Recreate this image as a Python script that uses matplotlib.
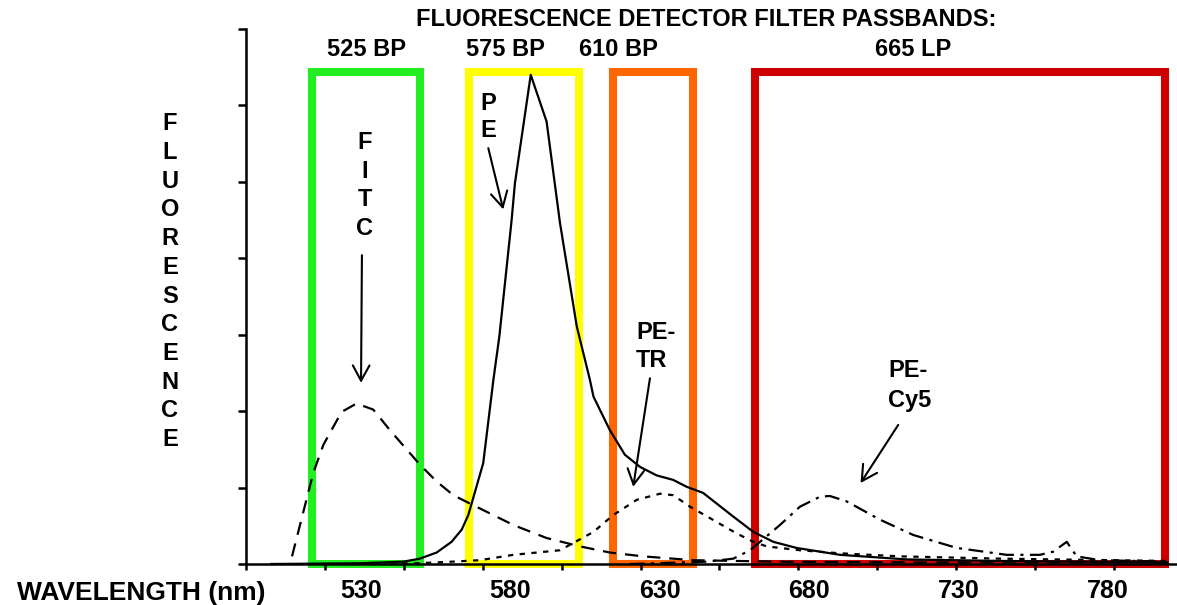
import numpy as np
import matplotlib.pyplot as plt
from matplotlib.patches import Rectangle

plt.rcParams['font.family'] = ['Liberation Sans', 'DejaVu Sans']
plt.rcParams['font.weight'] = 'bold'

# spectra (wavelength nm, fluorescence in axis units 0-7)
wl_fitc = [507, 514.1, 517.5, 523.6, 528.6, 534.2, 539.8, 549.8, 555.4, 561.0, 566.6,
           581.1, 592.2, 603.4, 613.4, 624.5, 641.2, 670, 720, 800]
fitc = [0.1, 1.19, 1.56, 1.99, 2.10, 2.02, 1.75, 1.30, 1.08, 0.90, 0.79,
        0.51, 0.34, 0.23, 0.15, 0.10, 0.05, 0.03, 0.02, 0.02]

wl_pe = [500, 530, 544.2, 549.8, 555.4, 560.4, 563.8, 566.0, 571.0, 574.4, 576.4, 580.5,
         581.6, 586.9, 592.2, 596.7, 602.3, 606.7, 607.9, 613.4, 618.4, 623.5, 629.0,
         634.6, 639.1, 644.6, 654.7, 661.4, 668.1, 675.9, 690.4, 712.7, 743.9, 800]
pe = [0.0, 0.01, 0.03, 0.07, 0.15, 0.29, 0.45, 0.64, 1.32, 2.41, 2.98, 4.50,
      4.98, 6.40, 5.79, 4.46, 3.11, 2.41, 2.19, 1.75, 1.43, 1.27, 1.16,
      1.10, 1.01, 0.93, 0.62, 0.42, 0.29, 0.21, 0.12, 0.06, 0.04, 0.02]

wl_petr = [540, 555.4, 569.9, 581.1, 596.7, 607.9, 614.5, 622.4, 630.2, 634.6, 640.2,
           646.9, 655.8, 661.4, 665.9, 677.0, 690.4, 710.5, 743.9, 800]
petr = [0.0, 0.02, 0.05, 0.12, 0.18, 0.42, 0.64, 0.84, 0.92, 0.90, 0.75,
        0.60, 0.40, 0.29, 0.23, 0.18, 0.14, 0.10, 0.07, 0.04]

wl_cy5 = [620, 645.7, 654.7, 660.3, 670.3, 677.0, 683.7, 687.0, 692.6, 703.8, 714.9,
          729.5, 746.2, 757.3, 761.7, 766.3, 769.6, 777.4, 800]
cy5 = [0.0, 0.03, 0.07, 0.18, 0.51, 0.75, 0.88, 0.89, 0.82, 0.58, 0.38,
       0.21, 0.12, 0.12, 0.16, 0.29, 0.10, 0.05, 0.03]

# filter passbands
band_names = ['525 BP', '575 BP', '610 BP', '665 LP']
band_left = [513.7, 566.4, 614.4, 662.1]
band_right = [549.8, 603.0, 641.3, 799.2]
band_colors = ['#22ee22', '#ffff00', '#ff6600', '#cc0000']
band_label_x = [531.8, 578.3, 616.1, 714.8]
band_top = 6.44
xlabels = [530, 580, 630, 680, 730, 780]

fig = plt.figure(figsize=(11.77, 6.05), dpi=100)
ax = fig.add_axes([246/1177, 41/605, 931/1177, 535/605])
ax.set_xlim(491.6, 803.2)
ax.set_ylim(0, 7)

for x0, x1, col, lab, lx in zip(band_left, band_right, band_colors, band_names, band_label_x):
    ax.add_patch(Rectangle((x0, 0), x1 - x0, band_top, fill=False, edgecolor=col,
                           lw=5.8, joinstyle='miter', clip_on=False, zorder=1))
    ax.text(lx, 6.65, lab, ha='center', va='baseline', fontsize=17, clip_on=False)

ax.text(645.5, 7.04, 'FLUORESCENCE DETECTOR FILTER PASSBANDS:', ha='center',
        va='baseline', fontsize=17, clip_on=False)

ax.plot(wl_fitc, fitc, color='black', lw=1.6, dashes=(6, 4), clip_on=False, zorder=3)
ax.plot(wl_pe, pe, color='black', lw=1.6, clip_on=False, zorder=3)
ax.plot(wl_petr, petr, color='black', lw=1.6, dashes=(2.4, 2.9), clip_on=False, zorder=3)
ax.plot(wl_cy5, cy5, color='black', lw=1.6, dashes=(6.7, 2.9, 1.4, 2.9), clip_on=False, zorder=3)

arrow = dict(arrowstyle='->,head_length=0.55,head_width=0.3', lw=1.5, color='black',
             mutation_scale=20, shrinkA=0, shrinkB=0)
# FITC
for i, ch in enumerate('FITC'):
    ax.text(531.4, 5.43 - i * 0.374, ch, ha='center', va='baseline', fontsize=17)
ax.annotate('', xy=(530.1, 2.37), xytext=(530.4, 4.04), arrowprops=arrow)
# PE
for i, ch in enumerate('PE'):
    ax.text(572.6, 5.94 - i * 0.355, ch, ha='center', va='baseline', fontsize=17)
ax.annotate('', xy=(577.7, 4.64), xytext=(572.7, 5.44), arrowprops=arrow)
# PE-TR
ax.text(622.1, 2.94, 'PE-', ha='left', va='baseline', fontsize=17)
ax.text(622.1, 2.58, 'TR', ha='left', va='baseline', fontsize=17)
ax.annotate('', xy=(621.2, 1.01), xytext=(626.8, 2.43), arrowprops=arrow)
# PE-Cy5
ax.text(706.5, 2.45, 'PE-', ha='left', va='baseline', fontsize=17)
ax.text(706.5, 2.06, 'Cy5', ha='left', va='baseline', fontsize=17)
ax.annotate('', xy=(697.3, 1.06), xytext=(709.9, 1.82), arrowprops=arrow)

for s in ['top', 'right']:
    ax.spines[s].set_visible(False)
for s in ['left', 'bottom']:
    ax.spines[s].set_linewidth(1.8)
    ax.spines[s].set_zorder(4)

ax.set_yticks(range(0, 8))
ax.set_yticklabels([])
ax.tick_params(axis='y', direction='out', length=6, width=1.8)
ax.set_xticks(xlabels)
ax.set_xticklabels([str(v) for v in xlabels], fontsize=18, fontweight='bold')
ax.tick_params(axis='x', which='major', length=0, pad=11)
ax.set_xticks(np.arange(491.6, 800, 26.41), minor=True)
ax.tick_params(axis='x', which='minor', direction='out', length=4.5, width=1.8)

fig.text(141/1177, 5/605, 'WAVELENGTH (nm)', ha='center', va='baseline', fontsize=19)
for i, ch in enumerate('FLUORESCENCE'):
    fig.text(170/1177, 0.7846 - i * 0.04744, ch, ha='center', va='baseline', fontsize=17)

fig.savefig('out.png', dpi=100)
